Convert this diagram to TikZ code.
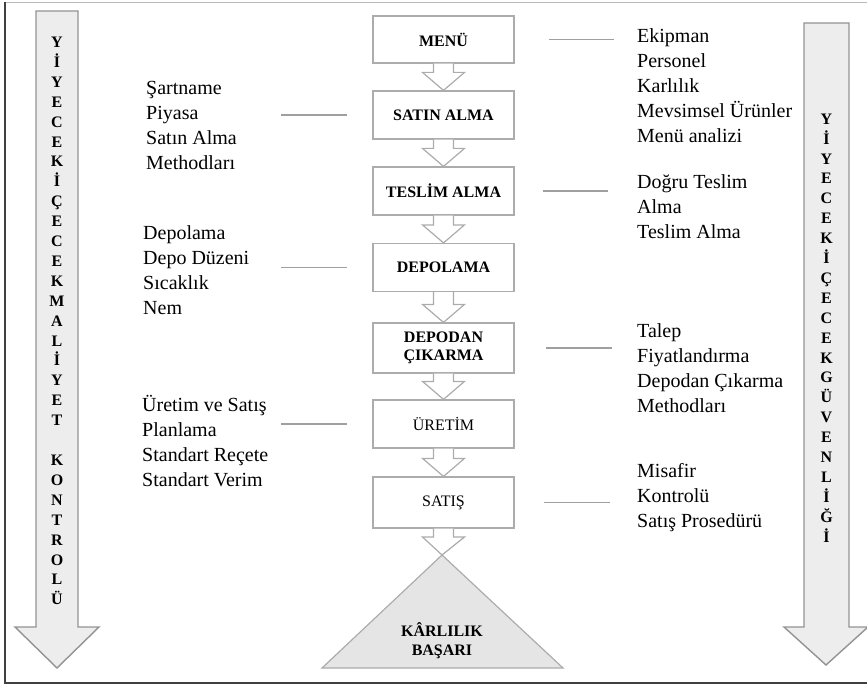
\documentclass[tikz,border=0pt]{standalone}
\usepackage{fontspec}
\setmainfont{Liberation Serif}
\usetikzlibrary{calc}
\tikzstyle{stage} = [draw=gray!65, line width=1.2pt, fill=white, minimum width=141pt,
minimum height=48pt, align=center, font=\bfseries\fontsize{16}{18}\selectfont]
\tikzstyle{plain} = [font=\fontsize{16}{18}\selectfont]
\tikzstyle{notes} = [anchor=west, align=left, inner sep=0pt, font=\fontsize{20}{25}\selectfont]
\tikzstyle{link} = [draw=gray!75, line width=1.2pt]
\tikzstyle{blockarrow} = [draw=gray!65, line width=1.2pt, fill=white]
\tikzstyle{sidearrow} = [draw=gray!85, line width=1.4pt, fill=gray!14]
\tikzstyle{spine} = [align=center, inner sep=0pt, font=\bfseries\fontsize{16}{19.9}\selectfont]

% chevron between two stages
\newcommand{\blockarrow}[2]{%
  \draw[blockarrow] let \p1=(#1), \p2=(#2) in
  (\x1-10pt,\y1) -- (\x1-10pt,\y2+18pt) -- (\x1-21pt,\y2+18pt) -- (\x2,\y2)
  -- (\x1+21pt,\y2+18pt) -- (\x1+10pt,\y2+18pt) -- (\x1+10pt,\y1);}

\begin{document}
\begin{tikzpicture}[x=1pt, y=-1pt]
  \useasboundingbox (0,0) rectangle (867,687);

  % frame
  \draw[gray!55, line width=1pt] (5,2.5) -- (867,2.5);
  \draw[black!75, line width=1.5pt] (5,2) -- (5,683) -- (867,683);

  % side arrows
  \draw[sidearrow] (36,11) -- (78,11) -- (78,627) -- (99,627) -- (57,668)
  -- (15,627) -- (36,627) -- cycle;
  \draw[sidearrow] (804,23) -- (849,23) -- (849,627) -- (868,627) -- (826,665)
  -- (784,627) -- (804,627) -- cycle;
  \node (costcontrol) [spine] at (57,321) {Y\\İ\\Y\\E\\C\\E\\K\\İ\\Ç\\E\\C\\E\\K\\M\\A\\L\\İ\\Y\\E\\T\\[20pt]K\\O\\N\\T\\R\\O\\L\\Ü};
  \node (foodsafety) [spine] at (826.5,328) {Y\\İ\\Y\\E\\C\\E\\K\\İ\\Ç\\E\\C\\E\\K\\G\\Ü\\V\\E\\N\\L\\İ\\Ğ\\İ};

  % stages
  \node (menu) [stage, minimum height=47pt] at (443.5,39.5) {MENÜ};
  \node (satinalma) [stage] at (443.5,115) {SATIN ALMA};
  \node (teslim) [stage] at (443.5,191) {TESLİM ALMA};
  \node (depolama) [stage] at (443.5,267.5) {DEPOLAMA};
  \node (depodan) [stage, minimum height=50pt] at (443.5,348) {DEPODAN\\ÇIKARMA};
  \node (uretim) [stage, plain] at (443.5,424) {ÜRETİM};
  \node (satis) [stage, plain, minimum height=51pt] at (443.5,502.5) {SATIŞ};

  % result
  \coordinate (apex) at (442,555);
  \draw[draw=gray!65, line width=1.2pt, fill=gray!20] (apex) -- (563,668) -- (322,668) -- cycle;
  \node (karlilik) [align=center, font=\bfseries\fontsize{16}{19}\selectfont] at (442,641) {KÂRLILIK\\BAŞARI};

  \blockarrow{menu.south}{satinalma.north}
  \blockarrow{satinalma.south}{teslim.north}
  \blockarrow{teslim.south}{depolama.north}
  \blockarrow{depolama.south}{depodan.north}
  \blockarrow{depodan.south}{uretim.north}
  \blockarrow{uretim.south}{satis.north}
  \blockarrow{satis.south}{apex}

  % notes on the right
  \node (menunotes) [notes] at (637,85.5) {Ekipman\\Personel\\Karlılık\\Mevsimsel Ürünler\\Menü analizi};
  \node (teslimnotes) [notes] at (637,206.5) {Doğru Teslim\\Alma\\Teslim Alma};
  \node (depodannotes) [notes] at (637,368) {Talep\\Fiyatlandırma\\Depodan Çıkarma\\Methodları};
  \node (satisnotes) [notes] at (637,497.5) {Misafir\\Kontrolü\\Satış Prosedürü};

  % notes on the left
  \node (satinnotes) [notes] at (146,125) {Şartname\\Piyasa\\Satın Alma\\Methodları};
  \node (depolamanotes) [notes] at (143,270) {Depolama\\Depo Düzeni\\Sıcaklık\\Nem};
  \node (uretimnotes) [notes] at (142,441) {Üretim ve Satış\\Planlama\\Standart Reçete\\Standart Verim};

  \draw[link] ([xshift=34pt]menu.east) -- ++(65,0);
  \draw[link] ([xshift=28pt]teslim.east) -- ++(65,0);
  \draw[link] ([xshift=31pt]depodan.east) -- ++(66,0);
  \draw[link] ([xshift=29pt]satis.east) -- ++(66,0);
  \draw[link] ([xshift=-25pt]satinalma.west) -- ++(-66,0);
  \draw[link] ([xshift=-25pt]depolama.west) -- ++(-66,0);
  \draw[link] ([xshift=-25pt]uretim.west) -- ++(-66,0);

\end{tikzpicture}
\end{document}
